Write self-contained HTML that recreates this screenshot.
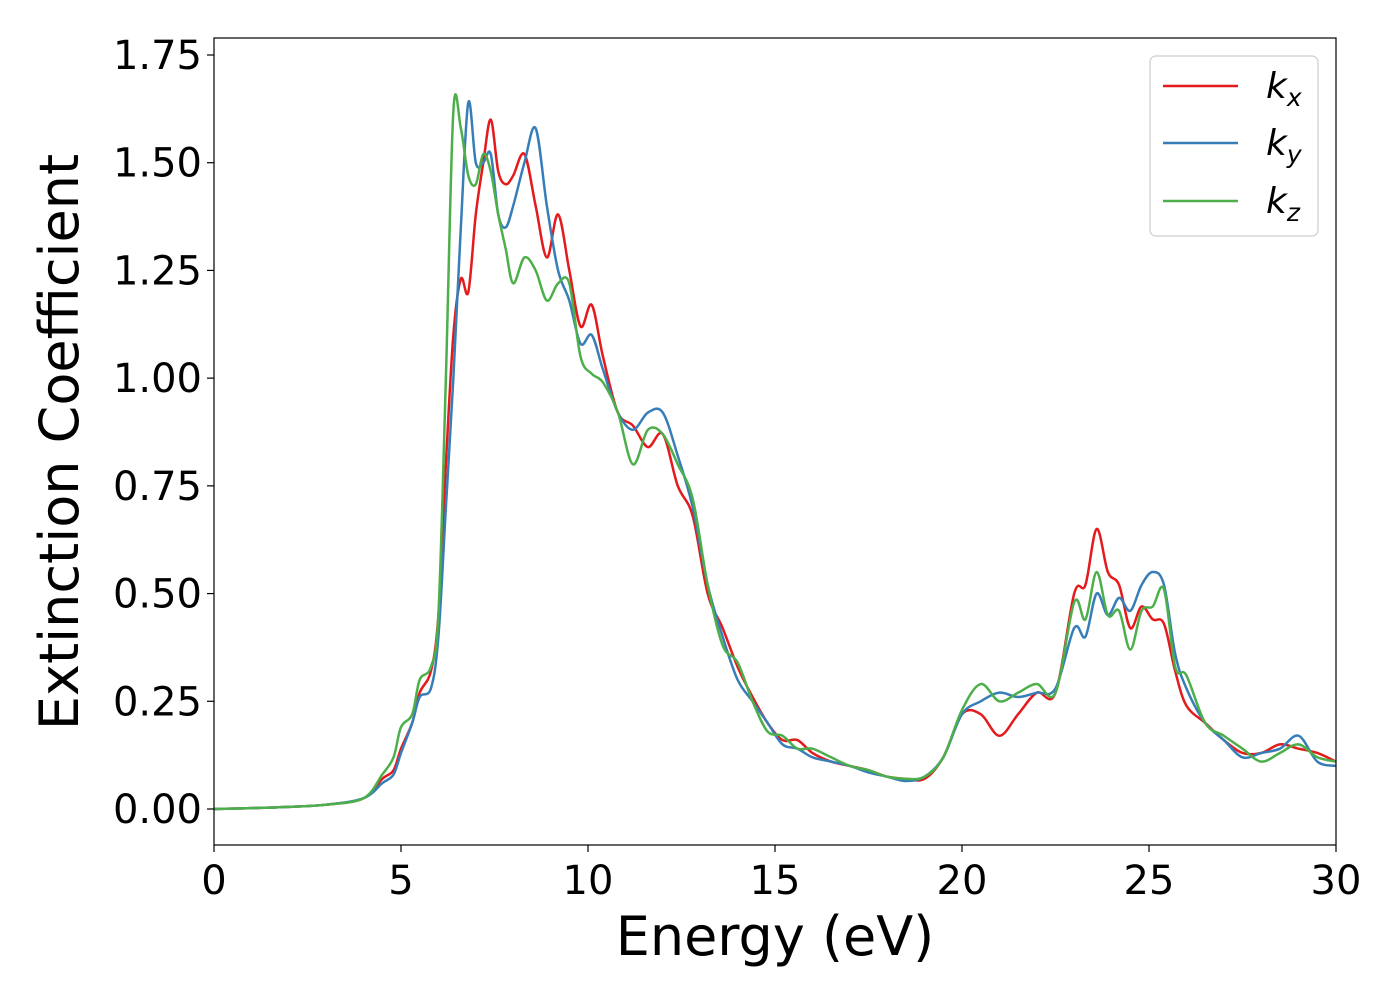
<!DOCTYPE html>
<html><head><meta charset="utf-8"><style>
body{margin:0;background:#fff}
svg{font-family:"DejaVu Sans","Liberation Sans",sans-serif}
</style></head><body>
<svg width="1400" height="1000" xmlns="http://www.w3.org/2000/svg">
<rect x="0" y="0" width="1400" height="1000" fill="#fff"/>
<g id="grid"></g>
<g id="series"></g>
<rect x="214" y="38" width="1122" height="807" fill="none" stroke="#000" stroke-width="1.2"/>
<g id="axes"></g>
<text x="775" y="955" font-size="54" text-anchor="middle">Energy (eV)</text>
<text transform="translate(78,442) rotate(-90)" font-size="54" text-anchor="middle">Extinction Coefficient</text>
<g>
<rect x="1150" y="56" width="168" height="180" rx="6" fill="#fff" stroke="#ccc" stroke-width="1.2"/>
<line x1="1163" y1="86" x2="1238" y2="86" stroke="#e41a1c" stroke-width="2.5"/>
<text x="1266" y="98" font-size="36" font-style="italic">k<tspan font-size="25" dy="8">x</tspan></text>
<line x1="1163" y1="143" x2="1238" y2="143" stroke="#377eb8" stroke-width="2.5"/>
<text x="1266" y="155" font-size="36" font-style="italic">k<tspan font-size="25" dy="8">y</tspan></text>
<line x1="1163" y1="201" x2="1238" y2="201" stroke="#4daf4a" stroke-width="2.5"/>
<text x="1266" y="213" font-size="36" font-style="italic">k<tspan font-size="25" dy="8">z</tspan></text>
</g>
</svg>
<script>
const energy=[0,1,2,3,4,4.5,4.8,5,5.3,5.5,5.8,6,6.2,6.4,6.6,6.8,7,7.2,7.4,7.6,7.8,8,8.3,8.6,8.9,9.2,9.5,9.8,10.1,10.4,10.8,11.2,11.6,12,12.4,12.8,13.2,13.6,14,14.4,14.8,15.2,15.6,16,16.5,17,17.5,18,18.5,19,19.5,20,20.5,21,21.5,22,22.5,23,23.3,23.6,23.9,24.2,24.5,24.8,25.1,25.4,25.7,26,26.5,27,27.5,28,28.5,29,29.5,30];
const kx=[0,0.002,0.005,0.01,0.025,0.07,0.09,0.14,0.2,0.27,0.32,0.45,0.8,1.1,1.23,1.2,1.38,1.5,1.6,1.48,1.45,1.47,1.52,1.4,1.28,1.38,1.25,1.12,1.17,1.05,0.92,0.89,0.84,0.87,0.75,0.68,0.5,0.42,0.33,0.26,0.2,0.16,0.16,0.13,0.11,0.1,0.09,0.075,0.07,0.07,0.12,0.22,0.22,0.17,0.22,0.27,0.27,0.5,0.52,0.65,0.55,0.52,0.42,0.47,0.44,0.43,0.32,0.24,0.2,0.16,0.13,0.13,0.15,0.14,0.13,0.11];
const ky=[0,0.002,0.005,0.01,0.025,0.06,0.08,0.13,0.2,0.26,0.28,0.4,0.7,1.0,1.35,1.64,1.5,1.5,1.52,1.38,1.35,1.4,1.5,1.58,1.4,1.25,1.18,1.08,1.1,1.02,0.92,0.88,0.92,0.92,0.82,0.7,0.52,0.4,0.3,0.25,0.2,0.15,0.14,0.12,0.11,0.1,0.085,0.075,0.065,0.075,0.12,0.22,0.25,0.27,0.26,0.27,0.28,0.42,0.4,0.5,0.45,0.49,0.46,0.52,0.55,0.52,0.36,0.28,0.2,0.16,0.12,0.13,0.14,0.17,0.11,0.1];
const kz=[0,0.002,0.005,0.01,0.025,0.08,0.12,0.19,0.22,0.3,0.33,0.45,1.0,1.62,1.58,1.47,1.45,1.52,1.48,1.38,1.3,1.22,1.28,1.25,1.18,1.22,1.22,1.05,1.01,0.99,0.92,0.8,0.88,0.87,0.8,0.72,0.52,0.38,0.34,0.25,0.18,0.17,0.14,0.14,0.12,0.1,0.09,0.075,0.07,0.075,0.12,0.23,0.29,0.25,0.27,0.29,0.27,0.48,0.44,0.55,0.45,0.46,0.37,0.46,0.47,0.51,0.33,0.31,0.2,0.17,0.14,0.11,0.13,0.15,0.12,0.11];
const xTicks=[0,5,10,15,20,25,30];
const yTicks=[0,0.25,0.5,0.75,1.0,1.25,1.5,1.75];
const yTickLabels=["0.00","0.25","0.50","0.75","1.00","1.25","1.50","1.75"];
const NS="http://www.w3.org/2000/svg";
const X=v=>214+v*(1122/30);
const Y=v=>809-v*(754/1.75);
const axes=document.getElementById('axes');
function mk(tag,attrs,parent){const e=document.createElementNS(NS,tag);for(const k in attrs)e.setAttribute(k,attrs[k]);parent.appendChild(e);return e;}
xTicks.forEach(t=>{
  const l=mk('line',{x1:X(t),x2:X(t),y1:845,y2:852,stroke:'#000','stroke-width':1.2},axes);
  
  
  const tx=mk('text',{x:X(t),y:894,'font-size':40,'text-anchor':'middle'},axes);
  tx.textContent=t;
  
  
});
yTicks.forEach((t,i)=>{
  const l=mk('line',{x1:207,x2:214,y1:Y(t),y2:Y(t),stroke:'#000','stroke-width':1.2},axes);
  
  
  const tx=mk('text',{x:202,y:Y(t)+14,'font-size':40,'text-anchor':'end'},axes);
  tx.textContent=yTickLabels[i];
  
  
});
function pathFor(ys){
  const p=energy.map((e,i)=>[X(e),Y(ys[i])]);
  let d='M'+p[0][0]+','+p[0][1];
  for(let i=0;i<p.length-1;i++){
    const p0=p[Math.max(0,i-1)],p1=p[i],p2=p[i+1],p3=p[Math.min(p.length-1,i+2)];
    const c1=[p1[0]+(p2[0]-p0[0])/6,p1[1]+(p2[1]-p0[1])/6];
    const c2=[p2[0]-(p3[0]-p1[0])/6,p2[1]-(p3[1]-p1[1])/6];
    d+=` C${c1[0]},${c1[1]} ${c2[0]},${c2[1]} ${p2[0]},${p2[1]}`;
  }
  return d;
}
const sg=document.getElementById('series');
[[kx,'#e41a1c','kx'],[ky,'#377eb8','ky'],[kz,'#4daf4a','kz']].forEach(([ys,c,n])=>{
  const pth=mk('path',{d:pathFor(ys),fill:'none',stroke:c,'stroke-width':2.5},sg);
  
  
});
</script>
</body></html>
